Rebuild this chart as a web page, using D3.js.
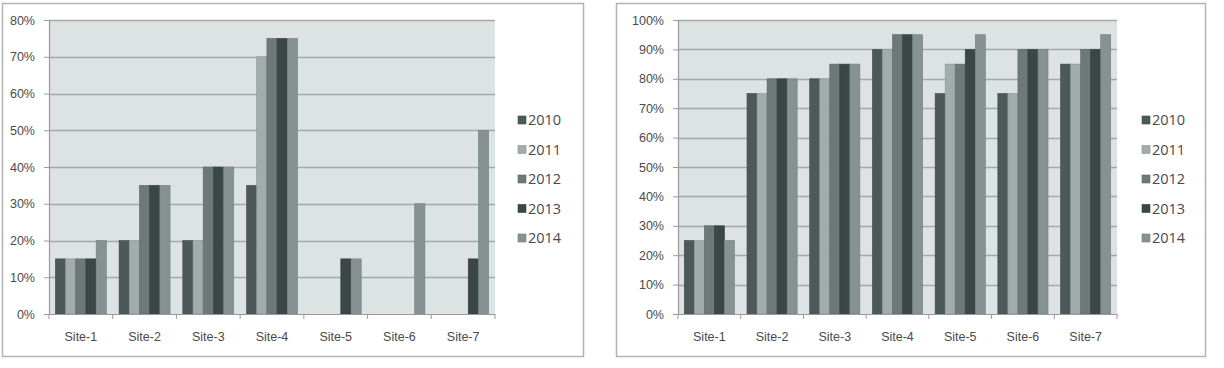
<!DOCTYPE html>
<html>
<head>
<meta charset="utf-8">
<script src="https://cdn.jsdelivr.net/npm/d3@7"></script>
<style>
  body { margin: 0; background: #fff; }
  svg { display: block; font-family: "Open Sans", "Liberation Sans", sans-serif; }
</style>
</head>
<body>
<div id="chart"></div>
<script>
// Two clustered column charts, sites by year

const sites = ["Site-1", "Site-2", "Site-3", "Site-4", "Site-5", "Site-6", "Site-7"];
const years = ["2010", "2011", "2012", "2013", "2014"];
const yearColors = ["#4d5959", "#a2acac", "#6d7979", "#3b4646", "#869292"];

// left chart, values in % per year (rows = years, cols = sites)
const leftValues = [
  [15, 20, 20, 35, 0, 0, 0],
  [15, 20, 20, 70, 0, 0, 0],
  [15, 35, 40, 75, 0, 0, 0],
  [15, 35, 40, 75, 15, 0, 15],
  [20, 35, 40, 75, 15, 30, 50]
];
const leftTicks = [0, 10, 20, 30, 40, 50, 60, 70, 80];

// right chart
const rightValues = [
  [25, 75, 80, 90, 75, 75, 85],
  [25, 75, 80, 90, 85, 75, 85],
  [30, 80, 85, 95, 85, 90, 90],
  [30, 80, 85, 95, 90, 90, 90],
  [25, 80, 85, 95, 95, 90, 95]
];
const rightTicks = [0, 10, 20, 30, 40, 50, 60, 70, 80, 90, 100];

const width = 1224;
const height = 368;

const svg = d3.select("#chart")
  .append("svg")
  .attr("width", width)
  .attr("height", height);

function drawChart(opts) {
  const g = svg.append("g");

  // outer frame
  g.append("rect")
    .attr("x", opts.frame[0] + 0.5)
    .attr("y", opts.frame[1] + 0.5)
    .attr("width", opts.frame[2])
    .attr("height", opts.frame[3])
    .attr("fill", "#fff")
    .attr("stroke", "#b4b4b4")
    .attr("stroke-width", 1.5);

  const x = d3.scaleBand()
    .domain(sites)
    .range([opts.plot.left, opts.plot.right])
    .paddingInner(0.2)
    .paddingOuter(0.1);

  const xYear = d3.scaleBand()
    .domain(years)
    .range([0, x.bandwidth()]);

  const y = d3.scaleLinear()
    .domain([0, d3.max(opts.ticks)])
    .range([opts.plot.bottom, opts.plot.top]);

  // plot area background
  g.append("rect")
    .attr("x", opts.plot.left)
    .attr("y", opts.plot.top)
    .attr("width", opts.plot.right - opts.plot.left)
    .attr("height", opts.plot.bottom - opts.plot.top)
    .attr("fill", "#dde2e3");

  // gridlines
  g.append("g")
    .selectAll("line")
    .data(opts.ticks.filter(t => t > 0))
    .join("line")
    .attr("x1", opts.plot.left)
    .attr("x2", opts.plot.right)
    .attr("y1", d => Math.round(y(d)) + 0.5)
    .attr("y2", d => Math.round(y(d)) + 0.5)
    .attr("stroke", "#a4aaab")
    .attr("stroke-width", 1.5);

  // bars
  years.forEach((yr, i) => {
    g.append("g")
      .selectAll("rect")
      .data(opts.values[i].map((v, j) => ({ site: sites[j], v })))
      .join("rect")
      .filter(d => d.v > 0)
      .attr("x", d => x(d.site) + xYear(yr))
      .attr("y", d => y(d.v))
      .attr("width", xYear.bandwidth())
      .attr("height", d => y(0) - y(d.v))
      .attr("fill", yearColors[i])
      .attr("stroke", d3.color(yearColors[i]).darker(0.4))
      .attr("stroke-width", 0.6);
  });

  // y axis
  const yAxis = g.append("g")
    .attr("transform", `translate(${opts.plot.left},0)`)
    .call(d3.axisLeft(y).tickValues(opts.ticks).tickFormat(d => d + "%").tickSize(5).tickPadding(9));

  // x axis
  const xAxis = g.append("g")
    .attr("transform", `translate(0,${opts.plot.bottom})`)
    .call(d3.axisBottom(x).tickSize(0).tickPadding(18));

  // category boundary ticks
  xAxis.append("g")
    .selectAll("line")
    .data(sites.map(s => x(s) - x.step() * x.paddingInner() / 2).concat([opts.plot.right]))
    .join("line")
    .attr("x1", d => d)
    .attr("x2", d => d)
    .attr("y1", 0)
    .attr("y2", 5)
    .attr("stroke", "#9a9a9a");

  [yAxis, xAxis].forEach(a => {
    a.select(".domain").attr("stroke", "#9a9a9a").attr("stroke-width", 1.2);
    a.selectAll(".tick line").attr("stroke", "#9a9a9a");
    a.selectAll("text")
      .attr("fill", "#4a4a4a")
      .style("font-size", "12.5px");
  });

  // legend
  const legend = g.append("g")
    .attr("transform", `translate(${opts.legend[0]},${opts.legend[1]})`);

  const item = legend.selectAll("g")
    .data(years)
    .join("g")
    .attr("transform", (d, i) => `translate(0,${i * 29.5})`);

  item.append("rect")
    .attr("x", 0)
    .attr("y", -4)
    .attr("width", 8)
    .attr("height", 8)
    .attr("fill", (d, i) => yearColors[i])
    .attr("stroke", (d, i) => d3.color(yearColors[i]).darker(0.4))
    .attr("stroke-width", 0.6);

  item.append("text")
    .attr("x", 10)
    .attr("y", 0)
    .attr("dy", "0.35em")
    .attr("fill", "#4a4a4a")
    .style("font-size", "14.5px")
    .text(d => d);
}

drawChart({
  frame: [2, 3, 581, 353],
  plot: { left: 49, right: 495, top: 20, bottom: 314 },
  values: leftValues,
  ticks: leftTicks,
  legend: [518, 120]
});

drawChart({
  frame: [616, 3, 589, 353],
  plot: { left: 678, right: 1117, top: 20, bottom: 314 },
  values: rightValues,
  ticks: rightTicks,
  legend: [1142, 120]
});
</script>
</body>
</html>
